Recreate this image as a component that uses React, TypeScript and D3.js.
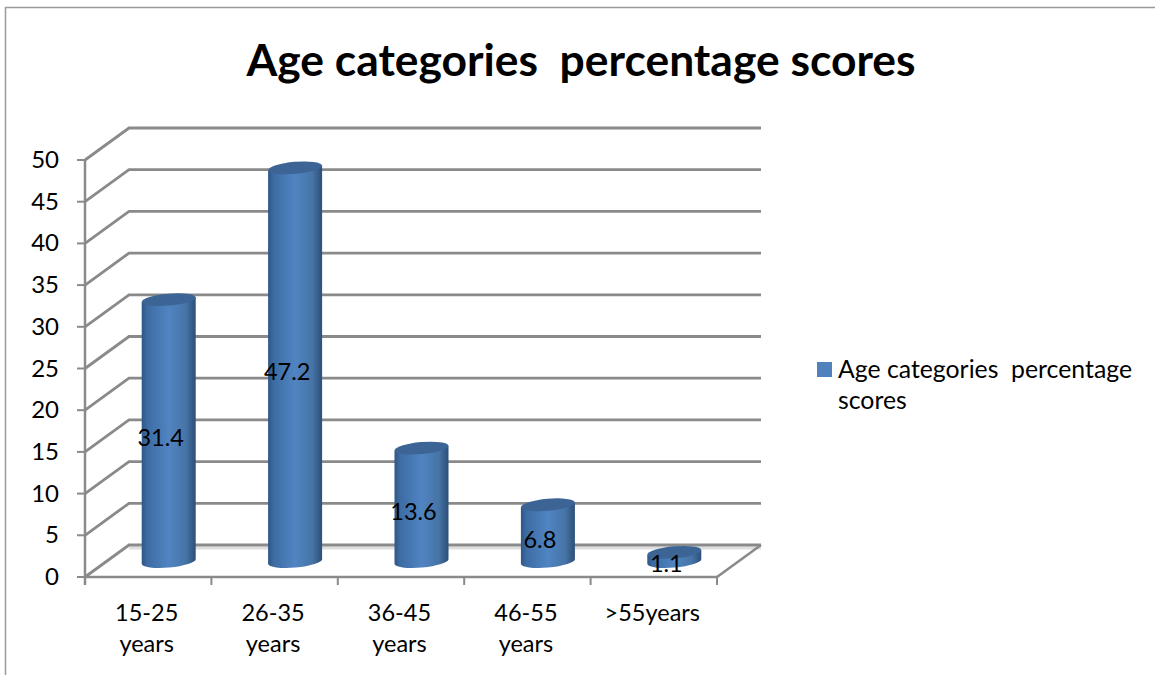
import * as d3 from "d3";

const categories = ["15-25|years", "26-35|years", "36-45|years", "46-55|years", ">55years"];
const values = [31.4, 47.2, 13.6, 6.8, 1.1];
const axisTicks = [0, 5, 10, 15, 20, 25, 30, 35, 40, 45, 50];
const chartTitle = "Age categories  percentage scores";
const legendLines = ["Age categories  percentage", "scores"];

const font = "Lato, 'Open Sans', sans-serif";
const gridColor = "#8a8a8a";

// Front face of the 3D plot box; the back wall sits up and to the right of it.
const frontLeft = 85;
const frontRight = 717;
const depthX = 44;
const depthY = 32;

const yFront = d3.scaleLinear().domain([0, 50]).range([577, 160]);
const xBand = d3.scaleBand<number>()
  .domain(d3.range(categories.length))
  .range([frontLeft, frontRight]);

// Columns stand midway along the depth of the floor.
const barBase = (v: number) => yFront(v) - 15.5;
const barCentre = (i: number) => (xBand(i) as number) + xBand.bandwidth() / 2 + 20.5;
const RX = 27;
const RY = 6;
const TILT = -5;
const rise = RX * Math.sin((-TILT * Math.PI) / 180);

export default function App() {
  return (
    <svg
      width={1155}
      height={675}
      viewBox="0 0 1155 675"
      style={{ position: "absolute", left: 0, top: 0, background: "#fff", fontFamily: font }}
    >
      <defs>
        <linearGradient id="cyl" x1="0" x2="1" y1="0" y2="0">
          <stop offset="0" stopColor="#2f5685" />
          <stop offset="0.1" stopColor="#3d6ca3" />
          <stop offset="0.5" stopColor="#5084c2" />
          <stop offset="0.82" stopColor="#4674a6" />
          <stop offset="1" stopColor="#2c4f78" />
        </linearGradient>
      </defs>

      {/* outer chart frame */}
      <path d="M5.5,675 V7.5 H1155" fill="none" stroke="#9a9a9a" strokeWidth={1.5} />

      <text
        x={581}
        y={76}
        textAnchor="middle"
        fontSize={44.4}
        fontWeight={700}
        fill="#000"
        style={{ whiteSpace: "pre" }}
      >
        {chartTitle}
      </text>

      {/* floor shading along the back wall */}
      <line
        x1={frontLeft + depthX}
        x2={frontRight + depthX}
        y1={yFront(0) - depthY + 3}
        y2={yFront(0) - depthY + 3}
        stroke="#dedede"
        strokeWidth={3}
      />

      {/* gridlines across the back wall and down the side wall */}
      {axisTicks.map((t) => (
        <g key={t} stroke={gridColor} strokeWidth={2.8} fill="none">
          <path
            d={`M${frontLeft},${yFront(t)} L${frontLeft + depthX},${yFront(t) - depthY} H${frontRight + depthX}`}
          />
          <line x1={frontLeft - 8} x2={frontLeft} y1={yFront(t)} y2={yFront(t)} strokeWidth={2} />
        </g>
      ))}

      {/* value axis, category axis and floor edge */}
      <g stroke={gridColor} strokeWidth={2.5} fill="none">
        <line x1={frontLeft} x2={frontLeft} y1={yFront(50)} y2={yFront(0) + 8} />
        <line x1={frontLeft} x2={frontRight} y1={yFront(0)} y2={yFront(0)} />
        <line
          x1={frontRight}
          y1={yFront(0)}
          x2={frontRight + depthX}
          y2={yFront(0) - depthY}
        />
        {categories.map((_, i) => (
          <line
            key={i}
            x1={(xBand(i) as number) + xBand.bandwidth()}
            x2={(xBand(i) as number) + xBand.bandwidth()}
            y1={yFront(0)}
            y2={yFront(0) + 8}
            strokeWidth={2}
          />
        ))}
      </g>

      {axisTicks.map((t) => (
        <text key={t} x={59} y={yFront(t) + 8} textAnchor="end" fontSize={24} fill="#000">
          {t}
        </text>
      ))}

      {/* cylinders */}
      {values.map((v, i) => {
        const cx = barCentre(i);
        const top = barBase(v);
        const base = barBase(0);
        return (
          <g key={i}>
            <path
              d={`M${cx - RX},${top + rise} L${cx - RX},${base + rise}
                  A${RX},${RY} ${TILT} 0 0 ${cx + RX},${base - rise}
                  L${cx + RX},${top - rise} Z`}
              fill="url(#cyl)"
            />
            <ellipse
              cx={0}
              cy={0}
              rx={RX}
              ry={RY}
              transform={`translate(${cx},${top}) rotate(${TILT})`}
              fill="#3c6595"
            />
          </g>
        );
      })}

      {/* data labels */}
      {values.map((v, i) => (
        <text
          key={i}
          x={barCentre(i) - 8}
          y={(barBase(0) + barBase(v)) / 2 + 15}
          textAnchor="middle"
          fontSize={23.5}
          fill="#000"
        >
          {v}
        </text>
      ))}

      {/* category labels */}
      {categories.map((c, i) => (
        <text key={i} textAnchor="middle" fontSize={23.5} fill="#000">
          {c.split("|").map((part, j) => (
            <tspan
              key={j}
              x={(xBand(i) as number) + xBand.bandwidth() / 2 - 1.5}
              y={621 + j * 31}
            >
              {part}
            </tspan>
          ))}
        </text>
      ))}

      {/* legend */}
      <rect x={817} y={362} width={15} height={15} fill="#4f81bd" />
      {legendLines.map((line, j) => (
        <text
          key={j}
          x={838}
          y={378 + j * 31}
          fontSize={24.8}
          fill="#000"
          style={{ whiteSpace: "pre" }}
        >
          {line}
        </text>
      ))}
    </svg>
  );
}
